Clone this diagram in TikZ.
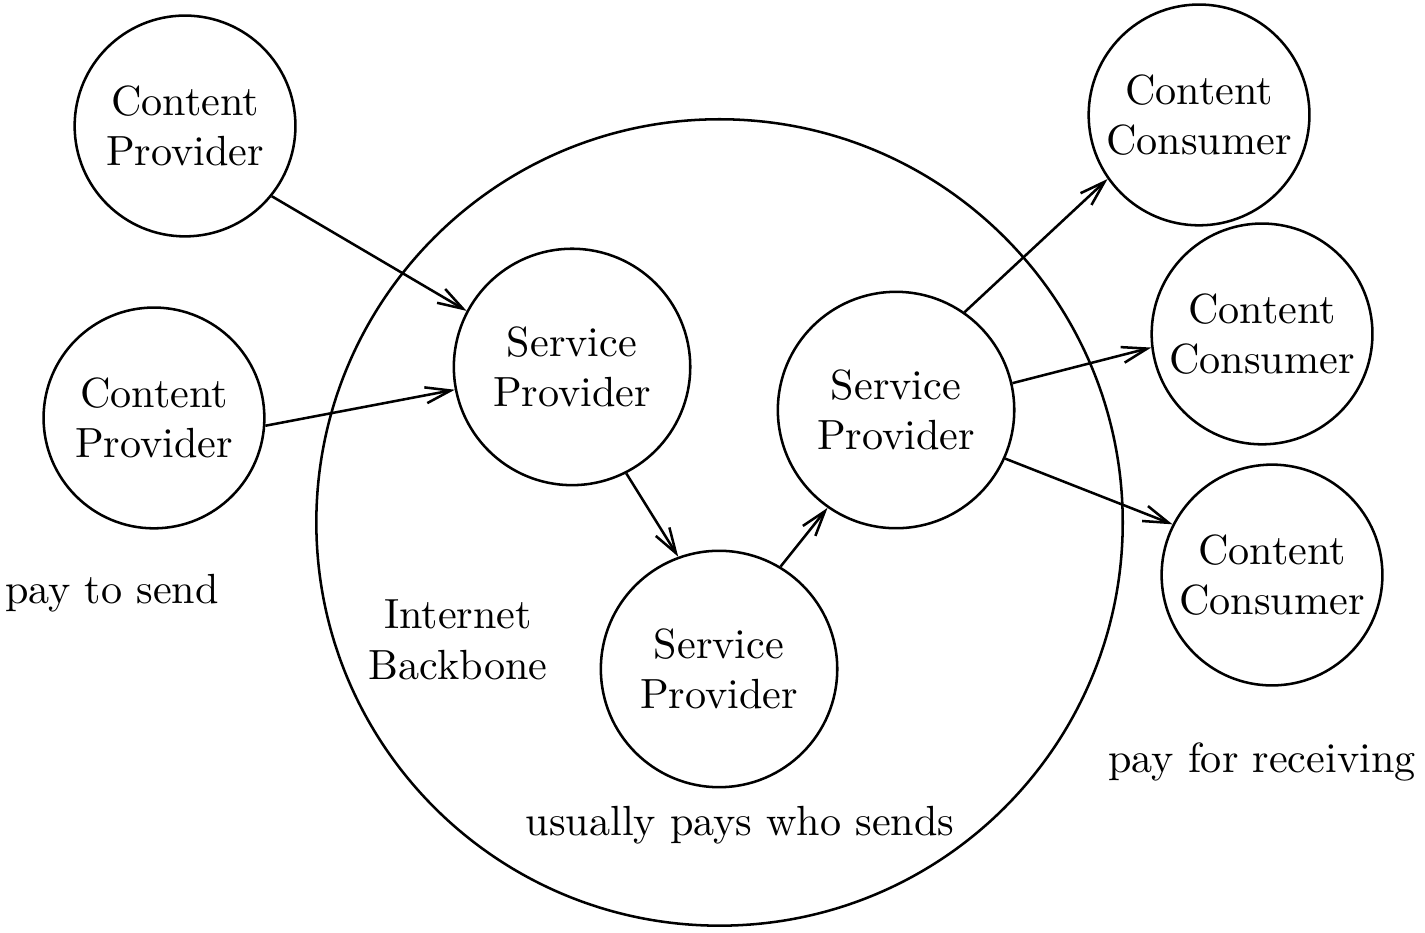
\documentclass[tikz,border=0pt]{standalone}
\usepackage{tikz}
\usetikzlibrary{arrows.meta, positioning}

\begin{document}
\begin{tikzpicture}[
    line width=0.6pt,
    party/.style={draw, circle, inner sep=0pt, minimum size=1.84cm, align=center},
    provider/.style={draw, circle, inner sep=0pt, minimum size=1.97cm, align=center},
    backbone/.style={draw, circle, minimum size=6.72cm},
    note/.style={align=center},
    arrow/.style={-{Straight Barb[length=6pt, width=3.8pt]}}
]
    \useasboundingbox (0,0) rectangle (11.875,7.775);

    % Backbone
    \node[backbone] (net) at (5.996,3.421) {};

    % Nodes - left side
    \node[party] (cp1) at (1.542,6.725) {Content\\Provider};
    \node[party] (cp2) at (1.283,4.292) {Content\\Provider};

    % Nodes - inside the backbone
    \node[provider] (sp1) at (4.767,4.717) {Service\\Provider};
    \node[provider] (sp2) at (5.992,2.200) {Service\\Provider};
    \node[provider] (sp3) at (7.467,4.358) {Service\\Provider};

    % Nodes - right side
    \node[party] (cc1) at (9.992,6.817) {Content\\Consumer};
    \node[party] (cc2) at (10.517,4.992) {Content\\Consumer};
    \node[party] (cc3) at (10.600,2.983) {Content\\Consumer};

    % Labels
    \node[note] (send) at (0.933,2.833) {pay to send};
    \node[note] (inet) at (3.817,2.442) {Internet\\Backbone};
    \node[note] (who) at (6.167,0.900) {usually pays who sends};
    \node[note] (recv) at (10.517,1.425) {pay for receiving};

    % Arrows
    \draw[arrow] (cp1.-39) -- (sp1.152);
    \draw[arrow] (cp2.-4) -- (sp1.191);
    \draw[arrow] (sp1.-63) -- (sp2.110);
    \draw[arrow] (sp2.59) -- (sp3.-125);
    \draw[arrow] (sp3.55) -- (cc1.-145);
    \draw[arrow] (sp3.13) -- (cc2.-173);
    \draw[arrow] (sp3.-24) -- (cc3.153);
\end{tikzpicture}
\end{document}
